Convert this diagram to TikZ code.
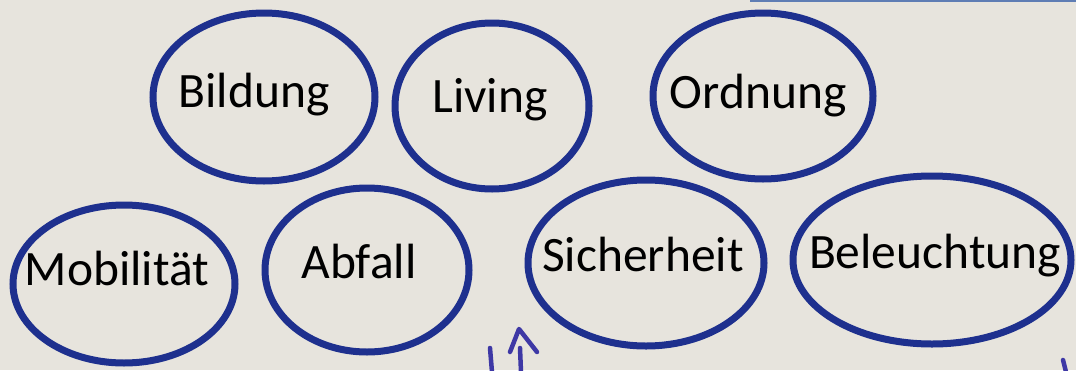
\documentclass[tikz,border=0pt]{standalone}
\usepackage{fontspec}
\setmainfont{Carlito}
\definecolor{paper}{RGB}{231,228,221}
\definecolor{ink}{RGB}{30,48,142}
\definecolor{pencil}{RGB}{62,56,165}
\definecolor{topline}{RGB}{95,125,180}
\begin{document}
\begin{tikzpicture}[x=1pt,y=-1pt,
  ring/.style={draw=ink,line width=7pt},
  word/.style={anchor=base,inner sep=0pt,font=\fontsize{49.5}{56}\selectfont,text=black},
  penstroke/.style={draw=pencil,line width=4.5pt,line cap=round,line join=round}]
\fill[paper] (0,0) rectangle (1076,370);
\useasboundingbox (0,0) rectangle (1076,370);
% hand-drawn rings
\draw[ring] (264,97) ellipse [x radius=111,y radius=84];
\draw[ring] (492,106) ellipse [x radius=97,y radius=83];
\draw[ring] (763,96) ellipse [x radius=110,y radius=83];
\draw[ring] (124,284) ellipse [x radius=111,y radius=79];
\draw[ring] (367,270) ellipse [x radius=102,y radius=82];
\draw[ring] (646,263) ellipse [x radius=118,y radius=83];
\draw[ring] (932,260) ellipse [x radius=139,y radius=84];
% labels
\node[word] (bildung) at (254,107) {Bildung};
\node[word] (living) at (490,112) {Living};
\node[word] (ordnung) at (758,108) {Ordnung};
\node[word] (mobil) at (117,285) {Mobilität};
\node[word] (abfall) at (359,278) {Abfall};
\node[word] (sicher) at (643,271) {Sicherheit};
\node[word] (beleucht) at (935,268) {Beleuchtung};
% stray pen marks
\draw[topline,line width=2pt] (750,0.5) -- (1076,0.5);
\draw[penstroke] (490,348) -- (492,372);
\draw[penstroke] (520,348) -- (521,372);
\draw[penstroke] (510,352) -- (519,329) -- (537,352);
\draw[penstroke] (1063,360) -- (1066,372);
\end{tikzpicture}
\end{document}
